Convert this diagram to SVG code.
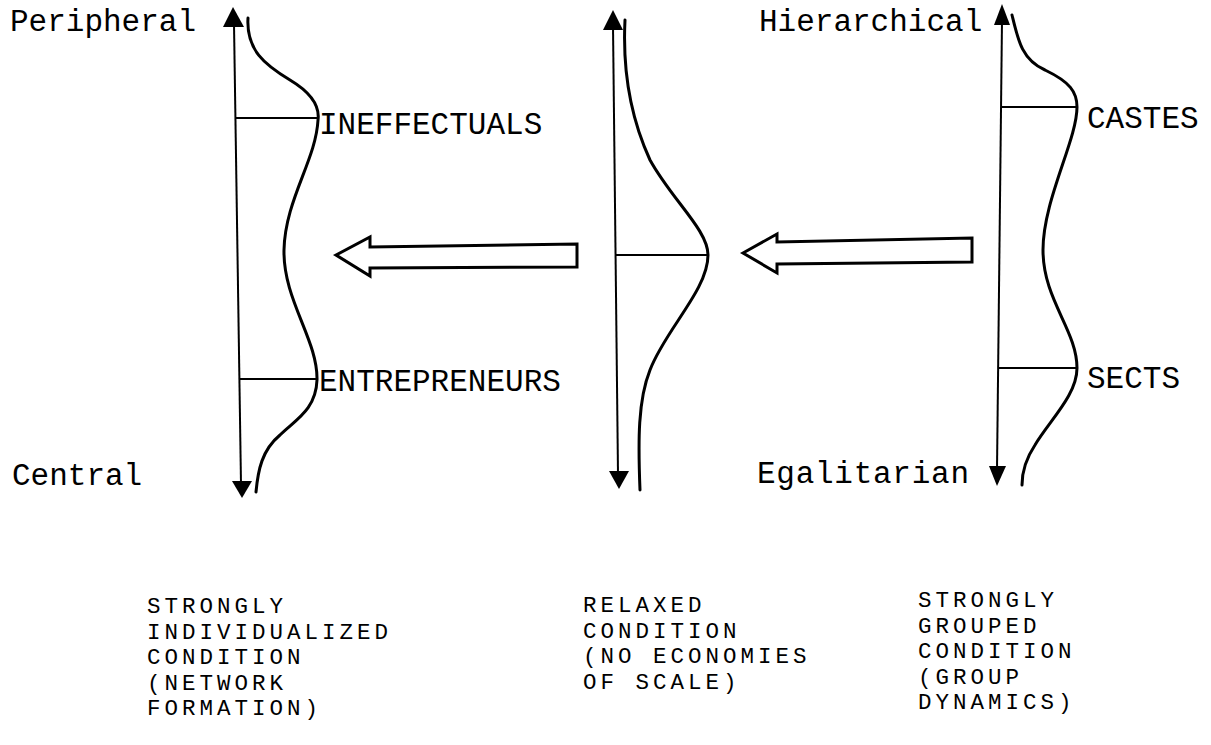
<svg xmlns="http://www.w3.org/2000/svg" width="1211" height="745" viewBox="0 0 1211 745">
<style>
.ax{stroke:#000;stroke-width:2;fill:none}
.cv{stroke:#000;stroke-width:3;fill:none;stroke-linecap:round}
.hd{fill:#000}
.ba{fill:#fff;stroke:#000;stroke-width:3;stroke-linejoin:miter}
.t{font-family:"Liberation Mono","DejaVu Sans Mono",monospace;fill:#000}
.big{font-size:31px}
.sm{font-size:22.5px;letter-spacing:4px}
</style>
<rect width="1211" height="745" fill="#fff"/>
<g id="scale-individualized">
<line class="ax" x1="234" y1="24" x2="241" y2="484"/>
<polygon class="hd" points="233,7 223,27 244,27"/>
<polygon class="hd" points="242,498 232,481 252,481"/>
<path class="cv" d="M248,18 C246,50 265,65 290,80 C310,92 320,105 318,120 C316,160 285,200 284,250 C283,300 318,340 317,380 C316,410 295,420 280,435 C262,450 258,470 256,492"/>
<line class="ax" x1="235" y1="118" x2="318" y2="118"/>
<line class="ax" x1="240" y1="379" x2="317" y2="379"/>
<text class="t big" x="10" y="31">Peripheral</text>
<text class="t big" x="12" y="485">Central</text>
<text class="t big" x="319" y="134">INEFFECTUALS</text>
<text class="t big" x="319" y="391">ENTREPRENEURS</text>
</g>
<g id="scale-relaxed">
<line class="ax" x1="613" y1="26" x2="618" y2="474"/>
<polygon class="hd" points="613,10 603,30 623,30"/>
<polygon class="hd" points="619,489 609,471 629,471"/>
<path class="cv" d="M625,20 C623,60 627,110 650,160 C672,200 708,230 708,255 C708,290 665,330 650,370 C638,400 638,440 640,490"/>
<line class="ax" x1="616" y1="255" x2="708" y2="255"/>
</g>
<g id="scale-grouped">
<line class="ax" x1="1002" y1="20" x2="997" y2="470"/>
<polygon class="hd" points="1002,4 994,25 1010,25"/>
<polygon class="hd" points="997,486 989,466 1006,466"/>
<path class="cv" d="M1012,15 C1018,40 1022,60 1045,70 C1070,82 1077,92 1077,107 C1077,140 1043,200 1043,250 C1043,300 1077,330 1077,368 C1077,395 1050,420 1035,445 C1025,460 1022,475 1022,485"/>
<line class="ax" x1="1001" y1="107" x2="1077" y2="107"/>
<line class="ax" x1="999" y1="368" x2="1077" y2="368"/>
<text class="t big" x="759" y="31">Hierarchical</text>
<text class="t big" x="757" y="483" textLength="212">Egalitarian</text>
<text class="t big" x="1087" y="128">CASTES</text>
<text class="t big" x="1087" y="388">SECTS</text>
</g>
<g id="connectors">
<polygon class="ba" points="336,255 370,237 370,247 577,244 577,267 370,268 370,276"/>
<polygon class="ba" points="743,253 777,234 777,242 972,238 972,262 777,264 777,273"/>
</g>
<g id="label-individualized">
<text class="t sm" x="147" y="613">STRONGLY</text>
<text class="t sm" x="147" y="638.5">INDIVIDUALIZED</text>
<text class="t sm" x="147" y="664">CONDITION</text>
<text class="t sm" x="147" y="689.5">(NETWORK</text>
<text class="t sm" x="147" y="715">FORMATION)</text>
</g>
<g id="label-relaxed">
<text class="t sm" x="583" y="612">RELAXED</text>
<text class="t sm" x="583" y="637.5">CONDITION</text>
<text class="t sm" x="583" y="663">(NO ECONOMIES</text>
<text class="t sm" x="583" y="688.5">OF SCALE)</text>
</g>
<g id="label-grouped">
<text class="t sm" x="918" y="607">STRONGLY</text>
<text class="t sm" x="918" y="632.5">GROUPED</text>
<text class="t sm" x="918" y="658">CONDITION</text>
<text class="t sm" x="918" y="683.5">(GROUP</text>
<text class="t sm" x="918" y="709">DYNAMICS)</text>
</g>
</svg>
